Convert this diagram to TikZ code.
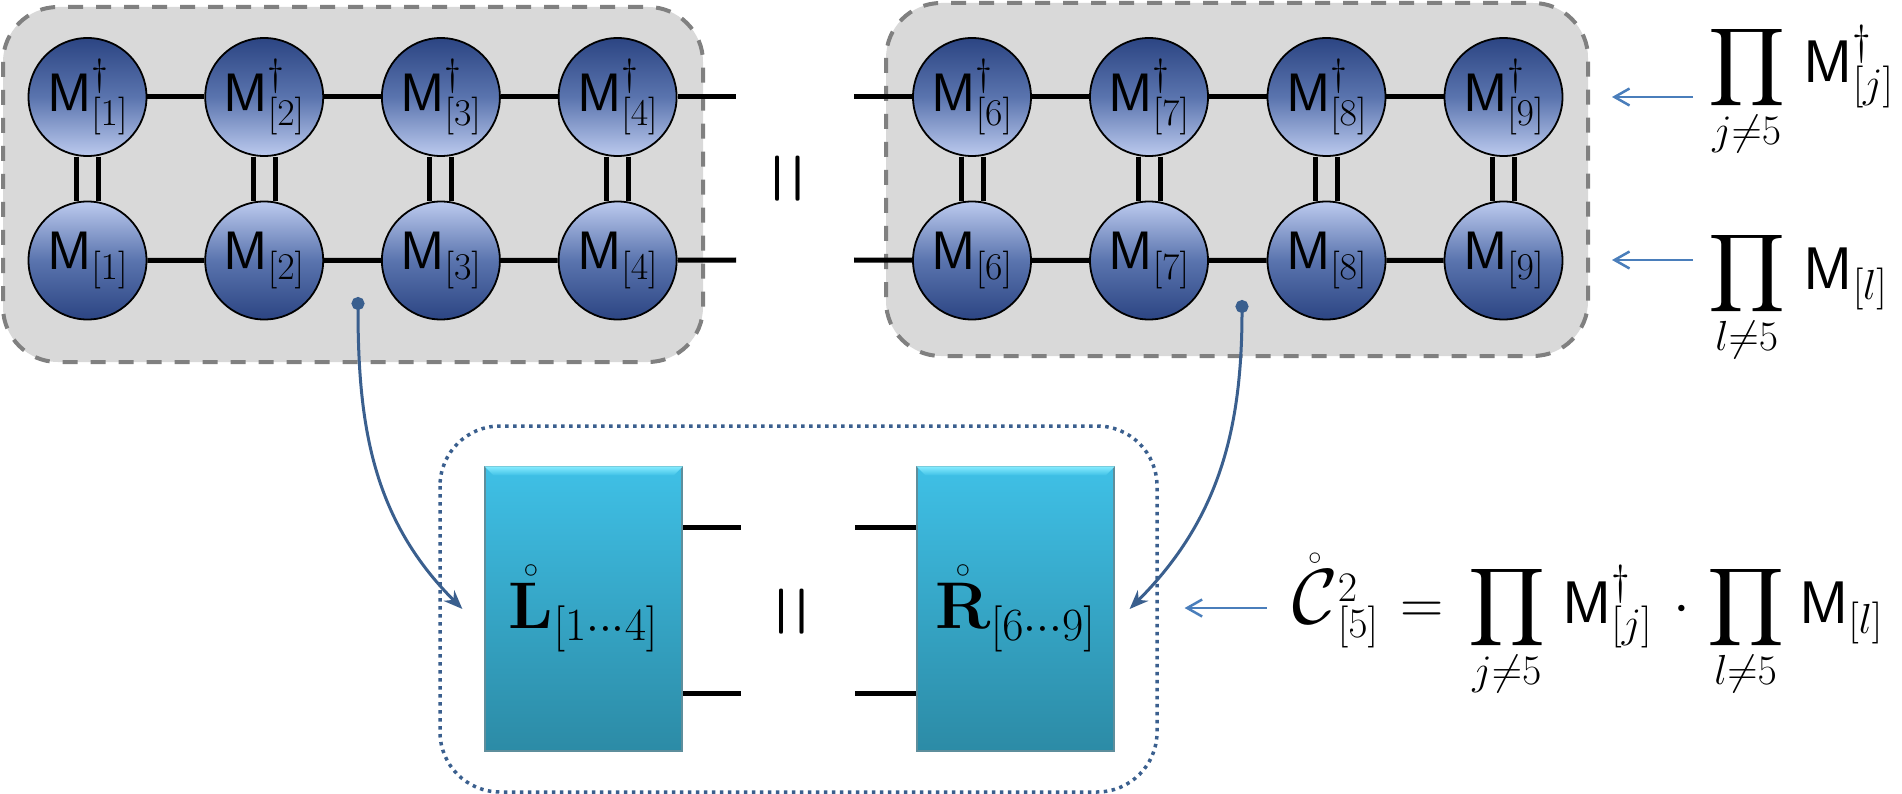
\documentclass[tikz,border=0pt]{standalone}
\usepackage{fix-cm}
\usepackage{exscale}
\usepackage{amsmath}
\usepackage{graphicx}
\usetikzlibrary{arrows.meta}
\definecolor{boxgray}{HTML}{D9D9D9}
\definecolor{dashgray}{HTML}{808080}
\definecolor{connblue}{HTML}{3A5F8E}
\definecolor{thinblue}{HTML}{4A7EBB}
\definecolor{balldark}{HTML}{2C4583}
\definecolor{ballmid}{HTML}{5A74AE}
\definecolor{balllight}{HTML}{BCCAEE}
\definecolor{cyantop}{HTML}{3FC0E6}
\definecolor{cyanbot}{HTML}{2C8BA6}
\definecolor{cyanedge}{HTML}{5E8E9C}
\definecolor{bevel}{HTML}{86ECFF}
\pgfdeclarelayer{back}
\pgfdeclarelayer{lines}
\pgfsetlayers{back,lines,main}
\newcommand{\bigP}{\mathop{\vcenter{\hbox{\resizebox*{77pt}{87pt}{$\displaystyle\prod$}}}}\limits}
\begin{document}
\begin{tikzpicture}[x=1pt,y=-1pt,
  ball/.style={circle, draw=black, line width=1.8pt, minimum size=118pt, inner sep=0pt, font=\fontsize{54}{60}\selectfont},
  topball/.style={ball, top color=balldark, bottom color=balllight, middle color=ballmid},
  botball/.style={ball, top color=balllight, bottom color=balldark, middle color=ballmid},
  bond/.style={line width=5pt, black},
  dbond/.style={line width=5pt, black, double=boxgray, double distance=17pt},
  graybox/.style={fill=boxgray, draw=dashgray, line width=4pt, dash pattern=on 15pt off 13pt, rounded corners=55pt},
  dotbox/.style={draw=connblue, line width=3.5pt, dash pattern=on 3.5pt off 4.5pt, rounded corners=60pt},
  cyanbox/.style={rectangle, draw=cyanedge, line width=1.2pt, top color=cyantop, bottom color=cyanbot, minimum width=197pt, minimum height=284pt, inner sep=0pt, font=\fontsize{66}{72}\selectfont},
  eqsign/.style={rotate=90, inner sep=0pt, font=\fontsize{72}{72}\selectfont},
  fmla/.style={inner sep=0pt, anchor=base west, font=\fontsize{60}{66}\selectfont},
  thinarrow/.style={thinblue, line width=2.5pt, -{Straight Barb[length=15pt,width=17pt]}},
  conn/.style={connblue, line width=3pt, {Circle[length=13pt]}-{Stealth[length=19pt,width=15pt]}}
]
\useasboundingbox (0,0) rectangle (1902,794);

% upper chains
\node[topball] (t1) at (87.5,97) {$\mathsf{M}^{\dagger}_{[1]}$};
\node[topball] (t2) at (264.2,97) {$\mathsf{M}^{\dagger}_{[2]}$};
\node[topball] (t3) at (440.9,97) {$\mathsf{M}^{\dagger}_{[3]}$};
\node[topball] (t4) at (617.6,97) {$\mathsf{M}^{\dagger}_{[4]}$};
\node[botball] (b1) at (87.5,260.5) {$\mathsf{M}_{[1]}$};
\node[botball] (b2) at (264.2,260.5) {$\mathsf{M}_{[2]}$};
\node[botball] (b3) at (440.9,260.5) {$\mathsf{M}_{[3]}$};
\node[botball] (b4) at (617.6,260.5) {$\mathsf{M}_{[4]}$};
\node[topball] (t6) at (972,97) {$\mathsf{M}^{\dagger}_{[6]}$};
\node[topball] (t7) at (1149,97) {$\mathsf{M}^{\dagger}_{[7]}$};
\node[topball] (t8) at (1326.5,97) {$\mathsf{M}^{\dagger}_{[8]}$};
\node[topball] (t9) at (1503.5,97) {$\mathsf{M}^{\dagger}_{[9]}$};
\node[botball] (b6) at (972,260.5) {$\mathsf{M}_{[6]}$};
\node[botball] (b7) at (1149,260.5) {$\mathsf{M}_{[7]}$};
\node[botball] (b8) at (1326.5,260.5) {$\mathsf{M}_{[8]}$};
\node[botball] (b9) at (1503.5,260.5) {$\mathsf{M}_{[9]}$};

\coordinate (e1) at (736,97);
\coordinate (e2) at (854,97);
\coordinate (e3) at (736,260);
\coordinate (e4) at (854,260);

\node[eqsign] (eq1) at (796,178.5) {\scalebox{1}[1.6]{$=$}};

% lower boxes
\node[cyanbox] (L) at (583.5,609) {$\mathring{\mathbf{L}}_{[1\cdots4]}$};
\node[cyanbox] (R) at (1015.5,609) {$\mathring{\mathbf{R}}_{[6\cdots9]}$};
\node[eqsign] (eq2) at (800,612) {\scalebox{1}[1.6]{$=$}};

\foreach \b in {L,R}{
  \shade[top color=bevel, bottom color=cyantop] (\b.north west) -- (\b.north east) -- ([shift={(-9pt,-9pt)}]\b.north east) -- ([shift={(9pt,-9pt)}]\b.north west) -- cycle;
}

% formulas
\node[fmla] (f1) at (1708,83) {$\bigP_{j\neq 5}\mkern2.5mu\mathsf{M}^{\dagger}_{[j]}$};
\node[fmla] (f2) at (1708,289) {$\bigP_{l\neq 5}\mkern2.5mu\mathsf{M}_{[l]}$};
\node[fmla] (f3) at (1292,623) {$\mathring{\scalebox{1.3}{$\mathcal{C}$}}{}^{2}_{[5]}\mkern1.5mu=\mkern2.5mu\bigP_{j\neq 5}\mkern2mu\mathsf{M}^{\dagger}_{[j]}\mkern2.5mu\cdot\mkern1mu\bigP_{l\neq 5}\mkern1.5mu\mathsf{M}_{[l]}$};

\coordinate (p1) at (1693,97);
\coordinate (q1) at (1612,97);
\coordinate (p2) at (1693,260);
\coordinate (q2) at (1612,260);
\coordinate (p3) at (1266.5,608);
\coordinate (q3) at (1184.6,608);
\draw[thinarrow] (p1) -- (q1);
\draw[thinarrow] (p2) -- (q2);
\draw[thinarrow] (p3) -- (q3);

\coordinate (d1) at (358,297);
\coordinate (d2) at (1242,300);
\draw[conn] (d1) .. controls +(0,128) and +(-90,-90) .. ([xshift=-22pt]L.west);
\draw[conn] (d2) .. controls +(0,128) and +(90,-90) .. ([xshift=15pt]R.east);

\begin{pgfonlayer}{lines}
\draw[bond] (t1) -- (t2) -- (t3) -- (t4) -- (e1);
\draw[bond] (b1) -- (b2) -- (b3) -- (b4) -- (e3);
\draw[bond] (e2) -- (t6) -- (t7) -- (t8) -- (t9);
\draw[bond] (e4) -- (b6) -- (b7) -- (b8) -- (b9);
\foreach \i in {1,2,3,4,6,7,8,9}{\draw[dbond] (t\i) -- (b\i);}
\draw[bond] ([yshift=82pt]L.east) -- ++(58.5,0);
\draw[bond] ([yshift=-84pt]L.east) -- ++(58.5,0);
\draw[bond] ([yshift=82pt]R.west) -- ++(-61,0);
\draw[bond] ([yshift=-84pt]R.west) -- ++(-61,0);
\end{pgfonlayer}

\begin{pgfonlayer}{back}
\draw[graybox] (3,7) rectangle (703,362);
\draw[graybox] (886,3) rectangle (1588,356);
\draw[dotbox] (440,426) rectangle (1157,792);
\end{pgfonlayer}
\end{tikzpicture}
\end{document}
